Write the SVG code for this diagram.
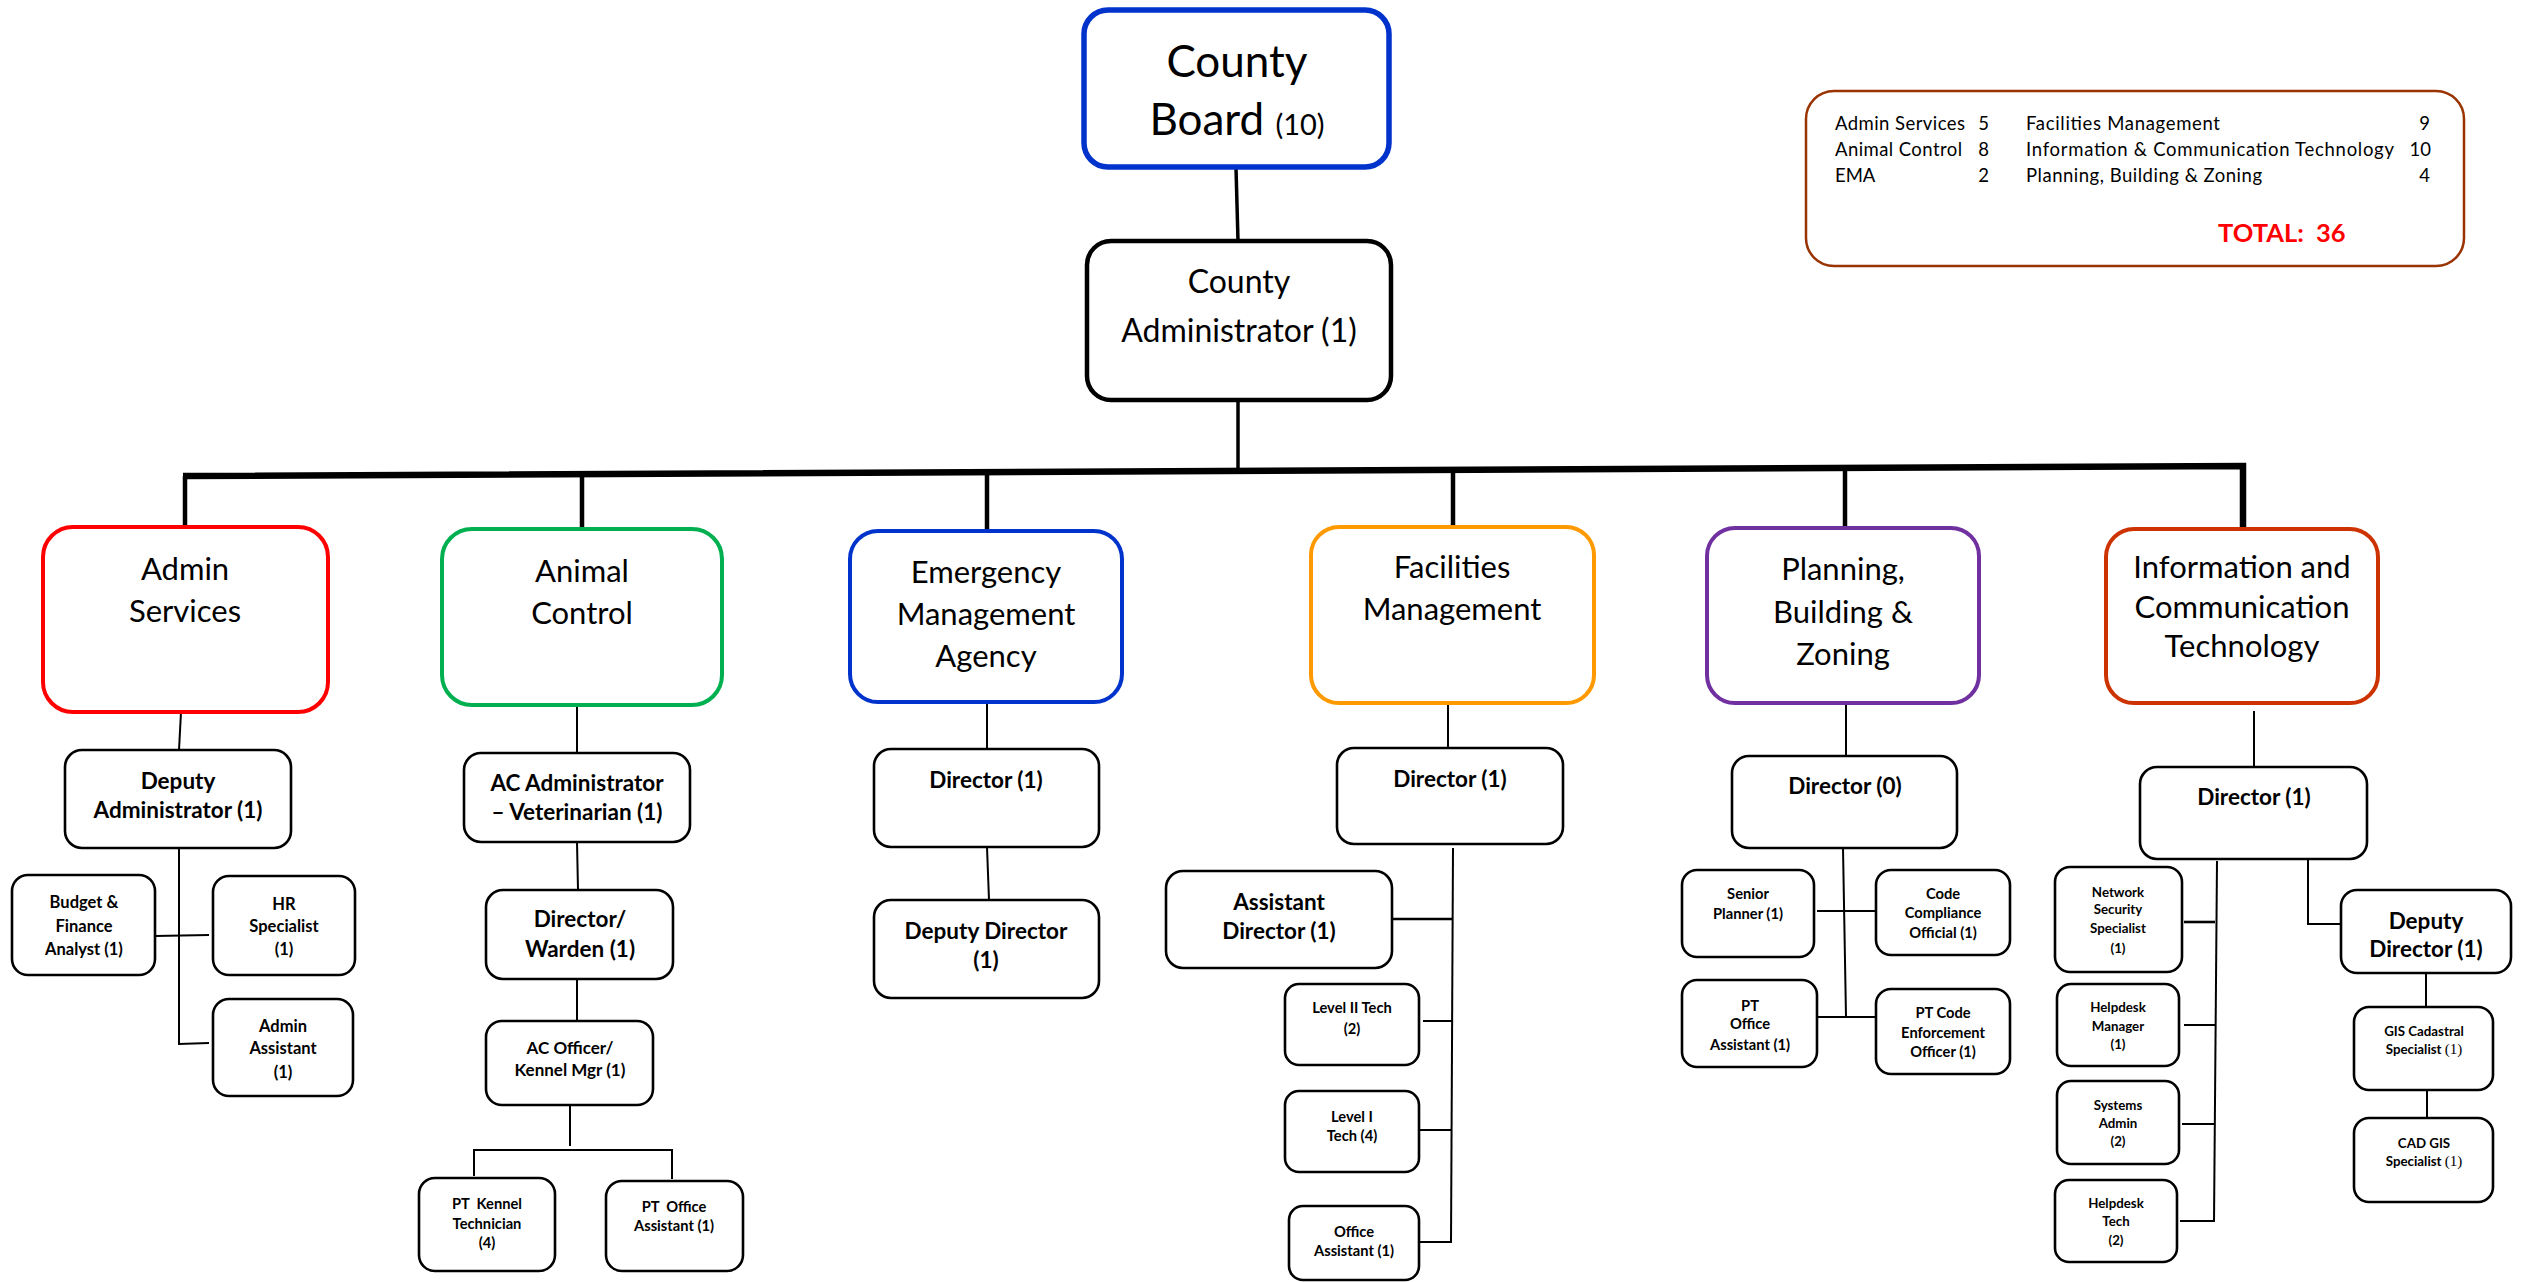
<svg xmlns="http://www.w3.org/2000/svg" width="2521" height="1282" viewBox="0 0 2521 1282">
<style>
.bg{fill:#fff}
.box{fill:#fff;stroke:#000;stroke-width:2.6}
.dept{fill:#fff;stroke-width:4}
.top{fill:#fff;stroke-width:4.5}
.t{font-family:Lato,"Liberation Sans",sans-serif;text-anchor:middle;fill:#000}
.b{font-weight:bold}
.s13{font-size:13.3px}.s14{font-size:14.7px}.s16{font-size:16.5px}.s17{font-size:17px}.s22{font-size:22.5px}.s30{font-size:31px}
.lg{font-family:Lato,"Liberation Sans",sans-serif;font-size:18.5px;fill:#000}
.ser{font-family:"Liberation Serif",serif;font-weight:normal}
.thick{stroke:#000;stroke-width:4.5;fill:none}
.thin{stroke:#000;stroke-width:2;fill:none}
.mid{stroke:#000;stroke-width:2.6;fill:none}
</style>
<rect class="bg" x="0" y="0" width="2521" height="1282"/>

<g id="connectors">
  <line class="mid" x1="1236" y1="168" x2="1238" y2="241" style="stroke-width:3.5"/>
  <line class="mid" x1="1238" y1="400" x2="1238" y2="470" style="stroke-width:3.5"/>
  <path class="thick" d="M183,476 L2243,466 L2243,529" style="stroke-width:6.5;stroke-linejoin:miter"/>
  <line class="thick" x1="185" y1="476" x2="185" y2="527"/>
  <line class="thick" x1="582" y1="474" x2="582" y2="529"/>
  <line class="thick" x1="987" y1="472" x2="987" y2="531"/>
  <line class="thick" x1="1453" y1="470" x2="1453" y2="527"/>
  <line class="thick" x1="1845" y1="468" x2="1845" y2="528"/>
  <!-- Admin Services -->
  <line class="thin" x1="181" y1="712" x2="179" y2="750"/>
  <path class="thin" d="M179,848 L179,1044 L209,1043"/>
  <line class="thin" x1="155" y1="936" x2="209" y2="935"/>
  <!-- Animal Control -->
  <line class="thin" x1="577" y1="705" x2="577" y2="753"/>
  <line class="thin" x1="577" y1="842" x2="578" y2="890"/>
  <line class="thin" x1="577" y1="979" x2="577" y2="1021"/>
  <line class="thin" x1="570" y1="1105" x2="570" y2="1146"/>
  <path class="thin" d="M474,1176 L474,1150 L672,1150 L672,1179"/>
  <!-- EMA -->
  <line class="thin" x1="987" y1="702" x2="987" y2="749"/>
  <line class="thin" x1="987" y1="847" x2="989" y2="900"/>
  <!-- Facilities -->
  <line class="thin" x1="1448" y1="703" x2="1448" y2="748"/>
  <line class="thin" x1="1453" y1="848" x2="1451" y2="1243"/>
  <line class="mid" x1="1392" y1="919" x2="1453" y2="919"/>
  <line class="thin" x1="1423" y1="1021" x2="1453" y2="1021"/>
  <line class="thin" x1="1419" y1="1130" x2="1452" y2="1130"/>
  <line class="thin" x1="1419" y1="1242" x2="1452" y2="1242"/>
  <!-- Planning -->
  <line class="thin" x1="1846" y1="703" x2="1846" y2="756"/>
  <line class="thin" x1="1843" y1="848" x2="1846" y2="1017"/>
  <line class="thin" x1="1817" y1="911" x2="1876" y2="911"/>
  <line class="thin" x1="1814" y1="1017" x2="1876" y2="1017"/>
  <!-- ICT -->
  <line class="thin" x1="2254" y1="711" x2="2254" y2="767"/>
  <line class="thin" x1="2217" y1="861" x2="2214" y2="1222"/>
  <line class="mid" x1="2184" y1="922" x2="2215" y2="922"/>
  <line class="thin" x1="2184" y1="1025" x2="2215" y2="1025"/>
  <line class="thin" x1="2182" y1="1124" x2="2215" y2="1124"/>
  <line class="thin" x1="2180" y1="1221" x2="2215" y2="1221"/>
  <path class="thin" d="M2308,859 L2308,924 L2340,924"/>
  <line class="thin" x1="2426" y1="973" x2="2426" y2="1007"/>
  <line class="thin" x1="2427" y1="1090" x2="2427" y2="1118"/>
</g>

<g id="county-board">
  <rect class="top" x="1084" y="10" width="305" height="157" rx="24" style="stroke:#0033cc;stroke-width:5.5"/>
  <text class="t" x="1237" y="77" style="font-size:44px">County</text>
  <text class="t" x="1237" y="135" style="font-size:44px">Board <tspan style="font-size:29px">(10)</tspan></text>
</g>
<g id="county-administrator">
  <rect class="top" x="1087" y="241" width="304" height="159" rx="24" style="stroke:#000"/>
  <text class="t" x="1239" y="293" style="font-size:32px">County</text>
  <text class="t" x="1239" y="342" style="font-size:32px">Administrator (1)</text>
</g>

<g id="dept-admin-services">
  <rect class="dept" x="43" y="527" width="285" height="185" rx="30" style="stroke:#ff0000"/>
  <text class="t s30" x="185" y="580">Admin</text>
  <text class="t s30" x="185" y="622">Services</text>
</g>
<g id="dept-animal-control">
  <rect class="dept" x="442" y="529" width="280" height="176" rx="30" style="stroke:#00b050"/>
  <text class="t s30" x="582" y="582">Animal</text>
  <text class="t s30" x="582" y="624">Control</text>
</g>
<g id="dept-ema">
  <rect class="dept" x="850" y="531" width="272" height="171" rx="28" style="stroke:#0033cc"/>
  <text class="t s30" x="986" y="583">Emergency</text>
  <text class="t s30" x="986" y="625">Management</text>
  <text class="t s30" x="986" y="667">Agency</text>
</g>
<g id="dept-facilities">
  <rect class="dept" x="1311" y="527" width="283" height="176" rx="28" style="stroke:#ff9900"/>
  <text class="t s30" x="1452" y="578">Facilities</text>
  <text class="t s30" x="1452" y="620">Management</text>
</g>
<g id="dept-planning">
  <rect class="dept" x="1707" y="528" width="272" height="175" rx="28" style="stroke:#7030a0"/>
  <text class="t s30" x="1843" y="580">Planning,</text>
  <text class="t s30" x="1843" y="623">Building &amp;</text>
  <text class="t s30" x="1843" y="665">Zoning</text>
</g>
<g id="dept-ict">
  <rect class="dept" x="2106" y="529" width="272" height="174" rx="28" style="stroke:#cc3300"/>
  <text class="t s30" x="2242" y="578">Information and</text>
  <text class="t s30" x="2242" y="618">Communication</text>
  <text class="t s30" x="2242" y="657">Technology</text>
</g>

<!-- Admin Services -->
<g id="deputy-administrator">
  <rect class="box" x="65" y="750" width="226" height="98" rx="17"/>
  <text class="t b s22" x="178" y="789">Deputy</text>
  <text class="t b s22" x="178" y="818">Administrator (1)</text>
</g>
<g id="budget-finance-analyst">
  <rect class="box" x="12" y="875" width="143" height="100" rx="16"/>
  <text class="t b s16" x="84" y="908">Budget &amp;</text>
  <text class="t b s16" x="84" y="932">Finance</text>
  <text class="t b s16" x="84" y="955">Analyst (1)</text>
</g>
<g id="hr-specialist">
  <rect class="box" x="213" y="876" width="142" height="99" rx="16"/>
  <text class="t b s16" x="284" y="910">HR</text>
  <text class="t b s16" x="284" y="932">Specialist</text>
  <text class="t b s16" x="284" y="955">(1)</text>
</g>
<g id="admin-assistant">
  <rect class="box" x="213" y="999" width="140" height="97" rx="16"/>
  <text class="t b s16" x="283" y="1032">Admin</text>
  <text class="t b s16" x="283" y="1054">Assistant</text>
  <text class="t b s16" x="283" y="1078">(1)</text>
</g>

<!-- Animal Control -->
<g id="ac-administrator">
  <rect class="box" x="464" y="753" width="226" height="89" rx="17"/>
  <text class="t b s22" x="577" y="791">AC Administrator</text>
  <text class="t b s22" x="577" y="820">– Veterinarian (1)</text>
</g>
<g id="director-warden">
  <rect class="box" x="486" y="890" width="187" height="89" rx="17"/>
  <text class="t b s22" x="580" y="927">Director/</text>
  <text class="t b s22" x="580" y="957">Warden (1)</text>
</g>
<g id="ac-officer">
  <rect class="box" x="486" y="1021" width="167" height="84" rx="16"/>
  <text class="t b s17" x="570" y="1054">AC Officer/</text>
  <text class="t b s17" x="570" y="1076">Kennel Mgr (1)</text>
</g>
<g id="pt-kennel-technician">
  <rect class="box" x="419" y="1178" width="136" height="93" rx="16"/>
  <text class="t b s14" x="487" y="1209" xml:space="preserve">PT  Kennel</text>
  <text class="t b s14" x="487" y="1229">Technician</text>
  <text class="t b s14" x="487" y="1248">(4)</text>
</g>
<g id="pt-office-assistant-ac">
  <rect class="box" x="606" y="1181" width="137" height="90" rx="16"/>
  <text class="t b s14" x="674" y="1212" xml:space="preserve">PT  Office</text>
  <text class="t b s14" x="674" y="1231">Assistant (1)</text>
</g>

<!-- EMA -->
<g id="ema-director">
  <rect class="box" x="874" y="749" width="225" height="98" rx="17"/>
  <text class="t b s22" x="986" y="788">Director (1)</text>
</g>
<g id="ema-deputy-director">
  <rect class="box" x="874" y="900" width="225" height="98" rx="17"/>
  <text class="t b s22" x="986" y="939">Deputy Director</text>
  <text class="t b s22" x="986" y="968">(1)</text>
</g>

<!-- Facilities -->
<g id="fac-director">
  <rect class="box" x="1337" y="748" width="226" height="96" rx="17"/>
  <text class="t b s22" x="1450" y="787">Director (1)</text>
</g>
<g id="fac-assistant-director">
  <rect class="box" x="1166" y="871" width="226" height="97" rx="17"/>
  <text class="t b s22" x="1279" y="910">Assistant</text>
  <text class="t b s22" x="1279" y="939">Director (1)</text>
</g>
<g id="level-ii-tech">
  <rect class="box" x="1285" y="984" width="134" height="81" rx="14"/>
  <text class="t b s14" x="1352" y="1013">Level II Tech</text>
  <text class="t b s14" x="1352" y="1034">(2)</text>
</g>
<g id="level-i-tech">
  <rect class="box" x="1285" y="1091" width="134" height="81" rx="14"/>
  <text class="t b s14" x="1352" y="1122">Level I</text>
  <text class="t b s14" x="1352" y="1141">Tech (4)</text>
</g>
<g id="fac-office-assistant">
  <rect class="box" x="1289" y="1206" width="130" height="74" rx="14"/>
  <text class="t b s14" x="1354" y="1237">Office</text>
  <text class="t b s14" x="1354" y="1256">Assistant (1)</text>
</g>

<!-- Planning -->
<g id="pbz-director">
  <rect class="box" x="1732" y="756" width="225" height="92" rx="17"/>
  <text class="t b s22" x="1845" y="794">Director (0)</text>
</g>
<g id="senior-planner">
  <rect class="box" x="1682" y="870" width="132" height="87" rx="15"/>
  <text class="t b s14" x="1748" y="899">Senior</text>
  <text class="t b s14" x="1748" y="919">Planner (1)</text>
</g>
<g id="code-compliance">
  <rect class="box" x="1876" y="870" width="134" height="85" rx="15"/>
  <text class="t b s14" x="1943" y="899">Code</text>
  <text class="t b s14" x="1943" y="918">Compliance</text>
  <text class="t b s14" x="1943" y="938">Official (1)</text>
</g>
<g id="pt-office-assistant-pbz">
  <rect class="box" x="1682" y="980" width="135" height="87" rx="15"/>
  <text class="t b s14" x="1750" y="1011">PT</text>
  <text class="t b s14" x="1750" y="1029">Office</text>
  <text class="t b s14" x="1750" y="1050">Assistant (1)</text>
</g>
<g id="pt-code-enforcement">
  <rect class="box" x="1876" y="989" width="134" height="85" rx="15"/>
  <text class="t b s14" x="1943" y="1018">PT Code</text>
  <text class="t b s14" x="1943" y="1038">Enforcement</text>
  <text class="t b s14" x="1943" y="1057">Officer (1)</text>
</g>

<!-- ICT -->
<g id="ict-director">
  <rect class="box" x="2140" y="767" width="227" height="92" rx="17"/>
  <text class="t b s22" x="2254" y="805">Director (1)</text>
</g>
<g id="network-security">
  <rect class="box" x="2055" y="867" width="127" height="105" rx="15"/>
  <text class="t b s13" x="2118" y="897">Network</text>
  <text class="t b s13" x="2118" y="914">Security</text>
  <text class="t b s13" x="2118" y="933">Specialist</text>
  <text class="t b s13" x="2118" y="953">(1)</text>
</g>
<g id="helpdesk-manager">
  <rect class="box" x="2057" y="984" width="122" height="82" rx="14"/>
  <text class="t b s13" x="2118" y="1012">Helpdesk</text>
  <text class="t b s13" x="2118" y="1031">Manager</text>
  <text class="t b s13" x="2118" y="1049">(1)</text>
</g>
<g id="systems-admin">
  <rect class="box" x="2057" y="1081" width="122" height="83" rx="14"/>
  <text class="t b s13" x="2118" y="1110">Systems</text>
  <text class="t b s13" x="2118" y="1128">Admin</text>
  <text class="t b s13" x="2118" y="1146">(2)</text>
</g>
<g id="helpdesk-tech">
  <rect class="box" x="2055" y="1180" width="122" height="82" rx="14"/>
  <text class="t b s13" x="2116" y="1208">Helpdesk</text>
  <text class="t b s13" x="2116" y="1226">Tech</text>
  <text class="t b s13" x="2116" y="1245">(2)</text>
</g>
<g id="ict-deputy-director">
  <rect class="box" x="2341" y="890" width="170" height="83" rx="16"/>
  <text class="t b s22" x="2426" y="929">Deputy</text>
  <text class="t b s22" x="2426" y="957">Director (1)</text>
</g>
<g id="gis-cadastral">
  <rect class="box" x="2354" y="1007" width="139" height="83" rx="15"/>
  <text class="t b s13" x="2424" y="1036">GIS Cadastral</text>
  <text class="t b s13" x="2424" y="1054">Specialist <tspan class="ser" style="font-size:15px">(1)</tspan></text>
</g>
<g id="cad-gis">
  <rect class="box" x="2354" y="1118" width="139" height="84" rx="15"/>
  <text class="t b s13" x="2424" y="1148">CAD GIS</text>
  <text class="t b s13" x="2424" y="1166">Specialist <tspan class="ser" style="font-size:15px">(1)</tspan></text>
</g>

<!-- Legend -->
<g id="legend">
  <rect x="1806" y="91" width="658" height="175" rx="28" fill="#fff" stroke="#993300" stroke-width="2.5"/>
  <text class="lg" x="1835" y="130" textLength="130">Admin Services</text>
  <text class="lg" x="1835" y="156" textLength="127">Animal Control</text>
  <text class="lg" x="1835" y="182">EMA</text>
  <text class="lg" x="1989" y="130" text-anchor="end">5</text>
  <text class="lg" x="1989" y="156" text-anchor="end">8</text>
  <text class="lg" x="1989" y="182" text-anchor="end">2</text>
  <text class="lg" x="2026" y="130" textLength="194">Facilities Management</text>
  <text class="lg" x="2026" y="156" textLength="368">Information &amp; Communication Technology</text>
  <text class="lg" x="2026" y="182" textLength="236">Planning, Building &amp; Zoning</text>
  <text class="lg" x="2430" y="130" text-anchor="end">9</text>
  <text class="lg" x="2431" y="156" text-anchor="end">10</text>
  <text class="lg" x="2430" y="182" text-anchor="end">4</text>
  <text x="2218" y="242" xml:space="preserve" style="font-family:Lato,'Liberation Sans',sans-serif;font-weight:bold;font-size:25.5px;fill:#ff0000">TOTAL:  36</text>
</g>
</svg>
